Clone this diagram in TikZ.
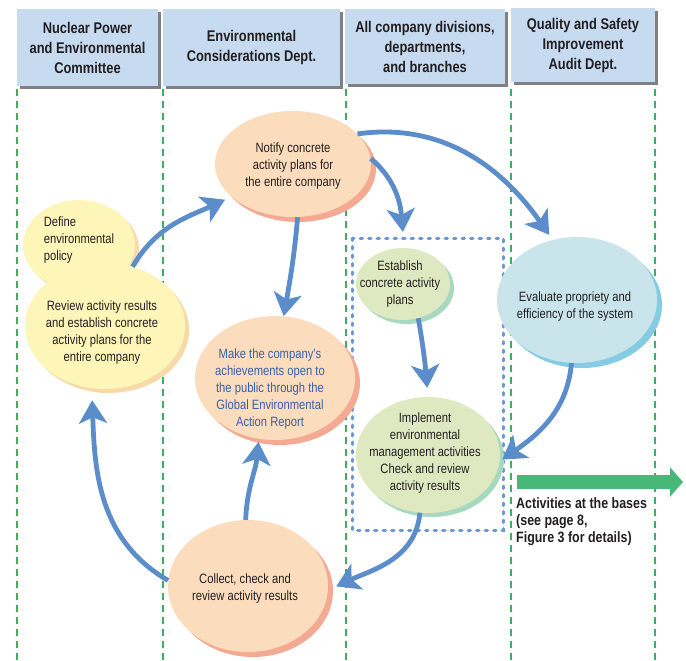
\documentclass[tikz,border=0pt]{standalone}
\usepackage{fontspec}
\setmainfont{Liberation Sans}[FakeStretch=0.83]
\usetikzlibrary{shapes.geometric,arrows.meta,shadows}
\definecolor{hdr}{HTML}{C6DAF0}
\definecolor{hdrsh}{HTML}{808080}
\definecolor{gline}{HTML}{3DB060}
\definecolor{ablue}{HTML}{5B8DCB}
\definecolor{dblue}{HTML}{6A98D4}
\definecolor{yfill}{HTML}{FEF5B9}
\definecolor{ysh}{HTML}{F8D9A8}
\definecolor{pfill}{HTML}{FBDDBD}
\definecolor{psh}{HTML}{F4A992}
\definecolor{gfill}{HTML}{DFE9C1}
\definecolor{gsh}{HTML}{A6D9C0}
\definecolor{bfill}{HTML}{C9E4EA}
\definecolor{bsh}{HTML}{86CBE4}
\definecolor{tblue}{HTML}{3A5FAA}
\definecolor{txt}{HTML}{231F20}
\definecolor{garrowc}{HTML}{48B878}
\begin{document}
\begin{tikzpicture}[x=1pt,y=-1pt,
  hdrbox/.style={rectangle, fill=hdr, inner sep=0pt, align=center, text=txt,
    font=\fontsize{15.5}{20}\selectfont\bfseries,
    drop shadow={shadow xshift=3pt, shadow yshift=-3pt, fill=hdrsh, opacity=1}},
  lane/.style={draw=gline, line width=1.3pt, dash pattern=on 7pt off 5pt},
  ell/.style={ellipse, inner sep=0pt, draw=none},
  etxt/.style={text=txt, align=center, font=\fontsize{13.5}{17}\selectfont},
  yel/.style={ell, fill=yfill, drop shadow={shadow xshift=4pt, shadow yshift=-4pt, fill=ysh, opacity=1}},
  pea/.style={ell, fill=pfill, drop shadow={shadow xshift=5pt, shadow yshift=-5pt, fill=psh, opacity=1}},
  grn/.style={ell, fill=gfill, drop shadow={shadow xshift=4pt, shadow yshift=-4pt, fill=gsh, opacity=1}},
  blu/.style={ell, fill=bfill, drop shadow={shadow xshift=5pt, shadow yshift=-5pt, fill=bsh, opacity=1}},
  flow/.style={draw=ablue, line width=4.8pt, -{Stealth[length=23pt,width=28pt,inset=6pt]}},
]
\useasboundingbox (0,0) rectangle (686,661);

% headers
\node[hdrbox, minimum width=141pt, minimum height=77pt] (h1) at (87.5,47.5) {Nuclear Power\\and Environmental\\Committee};
\node[hdrbox, minimum width=177pt, minimum height=77pt] (h2) at (251.5,47.5) {Environmental\\Considerations Dept.};
\node[hdrbox, minimum width=160pt, minimum height=75pt] (h3) at (425,46.5) {All company divisions,\\departments,\\and branches};
\node[hdrbox, minimum width=144pt, minimum height=74pt] (h4) at (583,45) {Quality and Safety\\Improvement\\Audit Dept.};

% lanes
\foreach \xx in {17,163,346,511,655} \draw[lane] (\xx,89) -- (\xx,661);

% dotted group frame
\draw[dblue, line width=3pt, line cap=round, dash pattern=on 2.5pt off 6pt] (352,238) rectangle (503,530);

% ellipses
\node[yel, minimum width=112pt, minimum height=90pt,
  label={[etxt, align=left, yshift=5pt]center:{Define\\environmental\\policy}}] (define) at (79,245) {};
\node[yel, minimum width=160pt, minimum height=126pt,
  label={[etxt, xshift=-3pt, yshift=-7pt]center:{Review activity results\\and establish concrete\\activity plans for the\\entire company}}] (review) at (105,326) {};
\node[pea, minimum width=156pt, minimum height=106pt,
  label={[etxt, yshift=-2pt]center:{Notify concrete\\activity plans for\\the entire company}}] (notify) at (293,164) {};
\node[pea, minimum width=160pt, minimum height=124pt,
  label={[etxt, text=tblue, xshift=-5pt, yshift=-11pt]center:{Make the company’s\\achievements open to\\the public through the\\Global Environmental\\Action Report}}] (make) at (275,378) {};
\node[grn, minimum width=94pt, minimum height=72pt,
  label={[etxt, xshift=-3pt]center:{Establish\\concrete activity\\plans}}] (establish) at (403,284) {};
\node[grn, minimum width=144pt, minimum height=116pt,
  label={[etxt, xshift=-3pt, yshift=2pt]center:{Implement\\environmental\\management activities\\Check and review\\activity results}}] (implement) at (428,455) {};
\node[blu, minimum width=160pt, minimum height=126pt,
  label={[etxt, xshift=-2pt, yshift=-7pt]center:{Evaluate propriety and\\efficiency of the system}}] (evaluate) at (577,300) {};
\node[pea, minimum width=160pt, minimum height=132pt,
  label={[etxt, xshift=-3pt, yshift=-3pt]center:{Collect, check and\\review activity results}}] (collect) at (248,586) {};

% connectors
\draw[flow, shorten >=7pt] (review.65) to[out=60,in=205] (notify.208);
\draw[flow] (notify.275) to[out=265,in=80] (make.82);
\draw[flow, shorten >=6pt] (notify.25) to[out=8,in=125] (evaluate.112);
\draw[flow, shorten >=16pt] (notify.4) to[out=-40,in=95] (establish.88);
\draw[flow, shorten >=9pt] (establish.-66) to[out=-80,in=95] (implement.90);
\draw[flow, shorten >=3pt] (evaluate.265) to[out=-95,in=35] (implement.355);
\draw[flow, shorten >=9pt] (implement.262) to[out=-95,in=25] (collect.-3);
\draw[flow, shorten >=3pt] (collect.92) to[out=88,in=265] (make.255);
\draw[flow, shorten >=12pt] (collect.176) to[out=150,in=-88] (review.258);

% green arrow to the bases
\coordinate (gs) at (517,482);
\coordinate (ge) at (683,482);
\draw[garrowc, line width=14pt, -{Triangle[length=13pt,width=29pt]}] (gs) -- (ge);
\node[anchor=north west, inner sep=0pt, align=left, text=txt,
  font=\fontsize{15}{17}\selectfont\bfseries] (bases) at (516,497)
  {Activities at the bases\\(see page 8,\\Figure 3 for details)};
\end{tikzpicture}
\end{document}
